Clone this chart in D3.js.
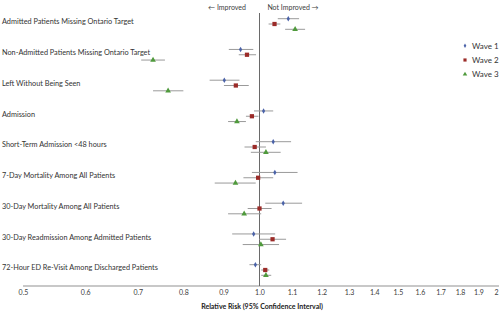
<!DOCTYPE html>
<html><head><meta charset="utf-8">
<script src="https://cdn.jsdelivr.net/npm/d3@7"></script>
<style>body{margin:0;background:#fff}svg{display:block}text{font-family:Lato,"Open Sans",sans-serif}</style>
</head><body><svg id="c" width="499" height="312"></svg>
<script>
const categories = ["Admitted Patients Missing Ontario Target","Non-Admitted Patients Missing Ontario Target","Left Without Being Seen","Admission","Short-Term Admission <48 hours","7-Day Mortality Among All Patients","30-Day Mortality Among All Patients","30-Day Readmission Among Admitted Patients","72-Hour ED Re-Visit Among Discharged Patients"];
const seriesNames = ["Wave 1","Wave 2","Wave 3"];
const wave1 = [1.088,0.946,0.902,1.012,1.041,1.046,1.072,0.983,0.988];
const wave1Lo = [1.055,0.914,0.864,0.984,0.989,0.978,1.017,0.923,0.971];
const wave1Hi = [1.123,0.982,0.943,1.041,1.097,1.118,1.133,1.047,1.005];
const wave2 = [1.045,0.964,0.933,0.978,0.986,0.996,1.0,1.039,1.017];
const wave2Lo = [1.027,0.941,0.901,0.961,0.957,0.954,0.966,0.999,1.005];
const wave2Hi = [1.063,0.990,0.969,0.997,1.019,1.041,1.036,1.081,1.029];
const wave3 = [1.110,0.732,0.765,0.936,1.019,0.932,0.956,1.004,1.019];
const wave3Lo = [1.078,0.707,0.732,0.912,0.975,0.877,0.912,0.952,1.005];
const wave3Hi = [1.143,0.758,0.800,0.961,1.064,0.989,1.005,1.059,1.035];
const tickValues = [0.5,0.6,0.7,0.8,0.9,1.0,1.1,1.2,1.3,1.4,1.5,1.6,1.7,1.8,1.9,2];
const tickLabels = ["0.5","0.6","0.7","0.8","0.9","1.0","1.1","1.2","1.3","1.4","1.5","1.6","1.7","1.8","1.9","2"];
const colors = ["#4a62a8","#9b2b28","#4f9a3c"];

const svg = d3.select("#c");
const x = d3.scaleLog().domain([0.5,2]).range([23,496]);
const y = d3.scaleLinear().domain([0,categories.length-1]).range([24,270]);
const off = [-5.3,0,5.3];
const axisY = 286;

svg.append("line").attr("x1",x(0.5)).attr("x2",499).attr("y1",axisY).attr("y2",axisY)
  .attr("stroke","#c8c8c8").attr("stroke-width",2);
svg.append("line").attr("x1",x(1)).attr("x2",x(1)).attr("y1",13).attr("y2",axisY)
  .attr("stroke","#6a6a6a").attr("stroke-width",1);

const ax = d3.axisBottom(x).tickValues(tickValues).tickSize(0).tickFormat((d,i)=>tickLabels[i]);
const g = svg.append("g").attr("transform",`translate(0,${axisY})`).call(ax);
g.select(".domain").remove();
g.selectAll("text").attr("font-size",7).attr("fill","#404040").attr("dy","0.9em")
  .attr("font-family","Lato,sans-serif");

svg.append("text").attr("x",262).attr("y",309).attr("text-anchor","middle")
  .attr("font-size",7).attr("font-weight","bold").attr("fill","#222").text("Relative Risk (95% Confidence Interval)");

svg.append("text").attr("x",227).attr("y",10).attr("text-anchor","middle").attr("font-size",7).attr("fill","#404040").text("\u2190 Improved");
svg.append("text").attr("x",293).attr("y",10).attr("text-anchor","middle").attr("font-size",7).attr("fill","#404040").text("Not Improved \u2192");

svg.selectAll(".cat").data(categories).enter().append("text")
  .attr("x",2).attr("y",(d,i)=>y(i)-2.3).attr("dy","0.35em")
  .attr("font-size",7.3).attr("fill","#333").text(d=>d);

const series = [[wave1,wave1Lo,wave1Hi],[wave2,wave2Lo,wave2Hi],[wave3,wave3Lo,wave3Hi]];
series.forEach((s,k)=>{
  const pts = categories.map((c,i)=>({v:s[0][i],lo:s[1][i],hi:s[2][i],yy:y(i)+off[k]}));
  svg.selectAll(".ci"+k).data(pts).enter().append("line")
    .attr("x1",d=>x(d.lo)).attr("x2",d=>x(d.hi)).attr("y1",d=>d.yy).attr("y2",d=>d.yy)
    .attr("stroke","#9a9a9a").attr("stroke-width",1);
  const sym = k===0 ? d3.symbol().type(d3.symbolDiamond).size(9)
            : k===1 ? d3.symbol().type(d3.symbolSquare).size(18)
            : d3.symbol().type(d3.symbolTriangle).size(14);
  svg.selectAll(".pt"+k).data(pts).enter().append("path")
    .attr("d",sym).attr("transform",d=>`translate(${x(d.v)},${d.yy})`).attr("fill",colors[k]);
});

seriesNames.forEach((n,k)=>{
  const ly = 45.7 + k*14.3;
  const sym = k===0 ? d3.symbol().type(d3.symbolDiamond).size(6)
            : k===1 ? d3.symbol().type(d3.symbolSquare).size(10)
            : d3.symbol().type(d3.symbolTriangle).size(9);
  svg.append("path").attr("d",sym).attr("transform",`translate(465,${ly})`).attr("fill",colors[k]);
  svg.append("text").attr("x",472).attr("y",ly).attr("dy","0.35em").attr("font-size",8).attr("fill","#333").text(n);
});
</script></body></html>
